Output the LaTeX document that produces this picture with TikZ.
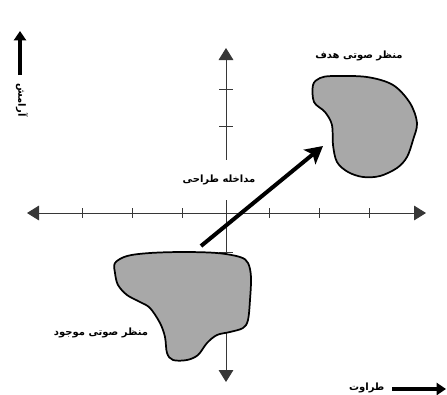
\documentclass[tikz,border=0pt]{standalone}
\usepackage{fontspec}
\usepackage{xcolor}
\usepackage{tikz}
\usetikzlibrary{arrows.meta}
\TeXXeTstate=1
\newfontfamily\arabicfont[Script=Arabic]{DejaVu Sans}
\definecolor{blobgray}{RGB}{168,168,168}
\definecolor{axisgray}{RGB}{55,55,55}

\begin{document}
\begin{tikzpicture}[x=0.75pt,y=-0.75pt,font=\arabicfont\bfseries\fontsize{7.5}{9}\selectfont,
  axis/.style={axisgray,line width=0.7pt},
  blob/.style={fill=blobgray,draw=black,line width=1.3pt},
  bigarrow/.style={line width=3pt,-{Stealth[length=13pt,width=14pt,inset=3pt]}},
  keyarrow/.style={line width=3.2pt,-{Triangle[length=7pt,width=9pt]}},
  lbl/.style={inner sep=1pt}]
\useasboundingbox (0,0) rectangle (447,394);
% axes
\coordinate (xl) at (27,213);
\coordinate (xr) at (426,213);
\coordinate (yt) at (226,48);
\coordinate (yb) at (226,382);
\coordinate (yg1) at (226,160);
\coordinate (yg2) at (226,200);
\draw[axis,{Triangle[length=9pt,width=11pt]}-{Triangle[length=9pt,width=11pt]}] (xl) -- (xr);
\draw[axis,{Triangle[length=9pt,width=11pt]}-] (yt) -- (yg1);
\draw[axis,-{Triangle[length=9pt,width=11pt]}] (yg2) -- (yb);
\foreach \x in {82,132,182,269,319,369}
  \draw[axis] (\x,208) -- (\x,218);
\foreach \y in {89,126,252,331}
  \draw[axis] (219,\y) -- (233,\y);
% soundscapes
\draw[blob] plot[smooth cycle,tension=0.55] coordinates {
  (313,85) (320,78) (333,76) (367,77) (393,85) (410,103) (417,123) (413,140)
  (407,157) (397,168) (380,176) (363,177) (348,172) (337,162) (333,145)
  (332,125) (325,112) (314,102)};
\draw[blob] plot[smooth cycle,tension=0.55] coordinates {
  (115,263) (127,256) (150,253) (183,252) (217,253) (240,257) (248,263)
  (251,277) (250,300) (248,320) (243,328) (230,332) (217,335) (207,343)
  (198,355) (187,360) (173,360) (167,353) (165,337) (160,323) (150,308)
  (140,302) (127,295) (118,285) (115,273)};
% design intervention
\coordinate (from) at (201,246);
\coordinate (to) at (323,146);
\draw[bigarrow] (from) -- (to);
\node[lbl] (target) at (359,56) {\beginR منظر صوتی هدف\endR};
\node[lbl] (current) at (101,333) {\beginR منظر صوتی موجود\endR};
\node[lbl] (design) at (219,180) {\beginR مداخله طراحی\endR};
% dimension keys
\coordinate (k1a) at (392,389);
\coordinate (k1b) at (446,389);
\draw[keyarrow] (k1a) -- (k1b);
\node[lbl,anchor=east] (fresh) at (386,388) {\beginR طراوت\endR};
\coordinate (k2a) at (20,75);
\coordinate (k2b) at (20,31);
\draw[keyarrow] (k2a) -- (k2b);
\node[lbl,rotate=-90] (calm) at (22,100) {\beginR آرامش\endR};
\end{tikzpicture}
\end{document}
